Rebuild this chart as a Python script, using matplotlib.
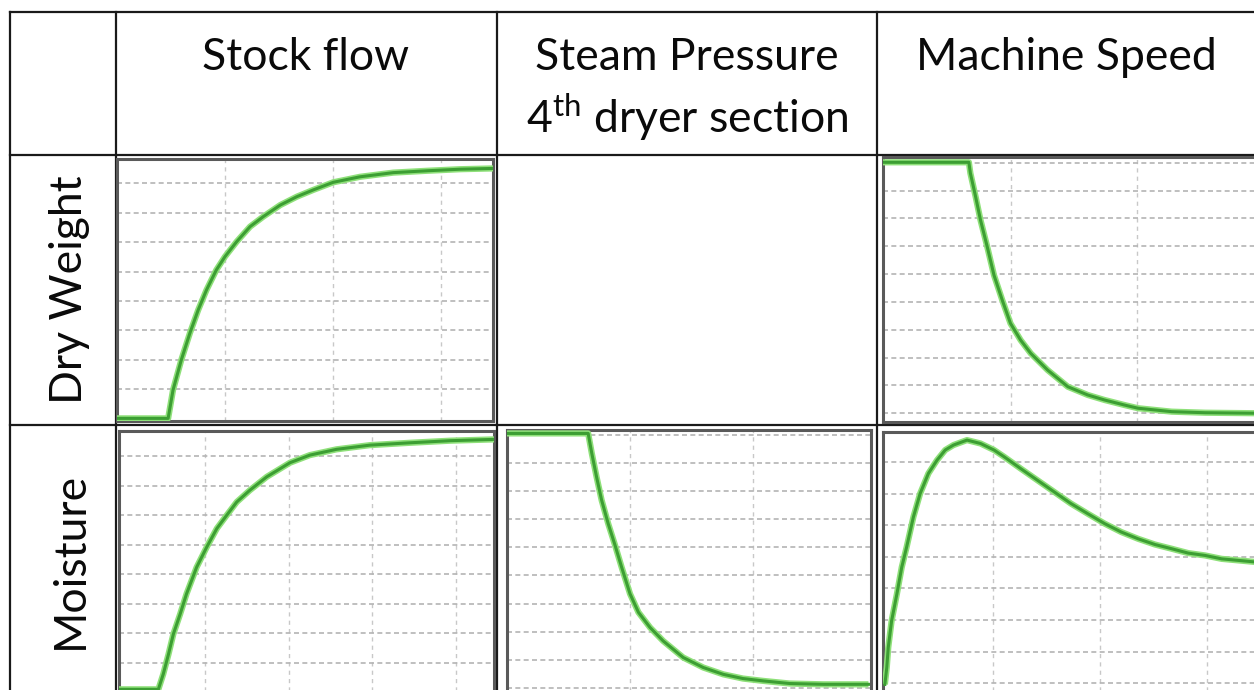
import matplotlib
matplotlib.use("Agg")
import matplotlib.pyplot as plt
import numpy as np

# ---------------- data (time in % of window, response in % of window) -------------
col_labels = ["Stock flow", "Steam Pressure\n4$^{\\mathrm{th}}$ dryer section", "Machine Speed"]
row_labels = ["Dry Weight", "Moisture"]

dw_stock_t = [0.0, 13.6, 14.9, 17.1, 19.4, 21.6, 23.8, 26.4, 28.7, 31.8, 35.4, 38.9, 43.4, 47.8,
              52.2, 57.5, 64.6, 73.5, 82.4, 91.2, 100.0]
dw_stock_y = [1.0, 1.0, 11.8, 23.3, 33.6, 42.4, 50.0, 57.6, 62.7, 68.4, 74.2, 78.0, 82.4, 85.6,
              88.2, 91.1, 93.2, 94.8, 95.5, 96.1, 96.4]

dw_speed_t = [0.0, 22.9, 23.3, 24.7, 26.0, 27.8, 29.6, 31.8, 34.0, 36.7, 39.4, 43.9, 49.3, 54.6,
              59.1, 64.4, 68.0, 77.0, 85.9, 100.0]
dw_speed_y = [98.0, 98.0, 93.9, 85.0, 76.2, 66.1, 55.4, 46.0, 37.2, 30.9, 25.9, 19.6, 13.3, 10.2,
              8.3, 6.4, 5.2, 3.9, 3.5, 3.3]

mo_stock_t = [0.0, 10.5, 11.8, 13.2, 14.5, 16.3, 18.0, 20.7, 23.4, 26.1, 28.7, 31.4, 34.9, 39.4,
              45.6, 50.9, 58.0, 66.9, 77.6, 88.3, 100.0]
mo_stock_y = [1.4, 1.4, 7.2, 14.8, 22.5, 30.1, 37.8, 48.0, 55.7, 62.8, 67.8, 72.9, 77.4, 82.5,
              87.9, 90.8, 93.0, 94.6, 95.5, 96.3, 96.8]

mo_steam_t = [0.0, 22.3, 23.3, 24.6, 26.0, 27.8, 29.7, 31.5, 33.8, 36.1, 39.3, 42.9, 48.4, 53.9,
              59.4, 64.8, 70.4, 77.7, 86.9, 99.3]
mo_steam_y = [98.7, 98.7, 91.1, 82.2, 73.3, 64.4, 56.1, 47.8, 37.7, 30.7, 24.9, 19.8, 13.5, 9.7,
              7.1, 5.5, 4.6, 3.6, 3.3, 3.3]

mo_speed_t = [0.5, 1.0, 1.4, 2.3, 3.7, 5.0, 6.3, 8.1, 9.9, 12.1, 14.4, 16.6, 18.8, 22.4, 26.0,
              29.6, 32.3, 36.7, 41.2, 45.7, 50.1, 54.6, 59.1, 63.5, 68.0, 72.5, 76.9, 81.4, 85.9,
              90.3, 94.8, 100.0]
mo_speed_y = [3.3, 9.7, 17.4, 27.7, 37.9, 48.2, 55.9, 67.4, 76.4, 84.1, 89.2, 93.1, 95.0, 96.9,
              95.6, 93.1, 90.5, 86.0, 81.5, 77.0, 72.6, 68.7, 64.9, 61.7, 59.1, 56.9, 55.3, 53.6,
              52.7, 51.4, 50.8, 50.1]

# ---------------- figure --------------------------------------------------------------
W, H = 1254, 690
fig = plt.figure(figsize=(W / 100, H / 100), dpi=100)
fig.patch.set_facecolor("white")
plt.rcParams["mathtext.fontset"] = "custom"
plt.rcParams["mathtext.rm"] = "Lato"

FONT = "Lato"
FS = 32
TC = "#0a0a0a"

# table layer in pixel coordinates
tab = fig.add_axes([0, 0, 1, 1])
tab.set_xlim(0, W)
tab.set_ylim(H, 0)
tab.axis("off")

lc = "#1a1a1a"
lw = 1.6
tab.plot([10, W], [12, 12], color=lc, lw=lw)
tab.plot([10, W], [155, 155], color=lc, lw=lw)
tab.plot([10, W], [425, 425], color=lc, lw=lw)
for x in [10, 116, 497, 877]:
    tab.plot([x, x], [12, H], color=lc, lw=lw)

head1, head2 = col_labels[1].split("\n")
tab.text(306, 58, col_labels[0], ha="center", va="center", fontsize=FS, family=FONT, color=TC)
tab.text(687, 58, head1, ha="center", va="center", fontsize=FS, family=FONT, color=TC)
tab.text(687, 117, head2, ha="center", va="center", fontsize=FS, family=FONT, color=TC)
tab.text(1066, 58, col_labels[2], ha="center", va="center", fontsize=FS, family=FONT, color=TC)
tab.text(70, 290, row_labels[0], ha="center", va="center", rotation=90, fontsize=FS, family=FONT, color=TC)
tab.text(70, 560, row_labels[1], ha="center", va="center", rotation=90, fontsize=FS, family=FONT, color=TC)


def panel(box, t, y, vgrid, hgrid):
    x0, y0, x1, y1 = box
    ax = fig.add_axes([x0 / W, 1 - y1 / H, (x1 - x0) / W, (y1 - y0) / H])
    ax.set_xlim(0, 100)
    ax.set_ylim(0, 100)
    ax.set_xticks([])
    ax.set_yticks([])
    for v in vgrid:
        ax.axvline(v, color="#c8c8c8", lw=1.0, ls=(0, (3, 3)), zorder=1)
    for h in hgrid:
        ax.axhline(h, color="#b4b4b4", lw=1.2, ls=(0, (3, 2)), zorder=1)
    ax.plot(t, y, color="#8fe07a", lw=4.5, solid_capstyle="butt", zorder=3)
    ax.plot(t, y, color="#3c9e33", lw=2.2, zorder=4)
    for s in ax.spines.values():
        s.set_color("#5a5a5a")
        s.set_linewidth(2.2)
    return ax


panel((117, 159, 493, 421), dw_stock_t, dw_stock_y,
      [28.7, 57.5, 86.3], [12.1 + 11.23 * k for k in range(8)])
panel((883, 157, 1258, 422), dw_speed_t, dw_speed_y,
      [34.0, 67.8], [3.3 + 10.5 * k for k in range(10)])
panel((119, 431, 494, 693), mo_stock_t, mo_stock_y,
      [22.9, 45.3, 67.5, 89.9], [11.5 + 11.27 * k for k in range(8)])
panel((507, 430, 871, 693), mo_steam_t, mo_steam_y,
      [33.8, 67.6], [1.9 + 10.7 * k for k in range(10)])
panel((883, 432, 1258, 693), mo_speed_t, mo_speed_y,
      [29.2, 57.9, 86.3], [3.8 + 12.1 * k for k in range(8)])

fig.savefig("out.png", dpi=100, facecolor="white")
